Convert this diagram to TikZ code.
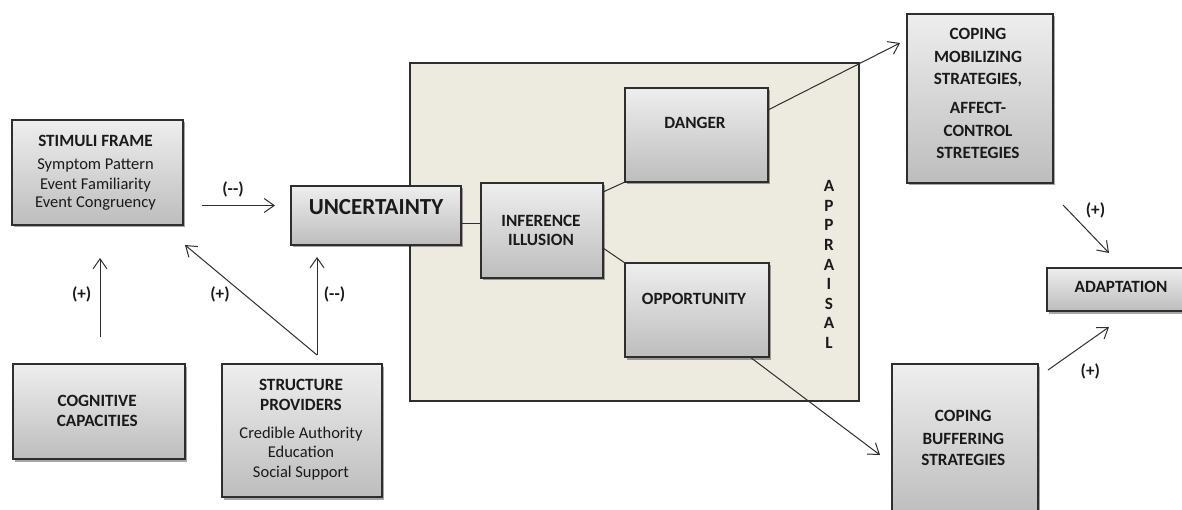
\documentclass[tikz,border=0pt]{standalone}
\usepackage{fontspec}
\setmainfont{Carlito}
\usetikzlibrary{arrows.meta,shadows}
\definecolor{edge}{HTML}{2E2E2E}
\definecolor{boxtop}{HTML}{EEEEEE}
\definecolor{boxbot}{HTML}{BDBDBD}
\definecolor{beige}{HTML}{EDEAE0}
\definecolor{ink}{HTML}{1A1A1A}
\begin{document}
\begin{tikzpicture}[x=1pt,y=-1pt,
  box/.style={draw=edge, line width=1.2pt, top color=boxtop, bottom color=boxbot,
    drop shadow={shadow xshift=2pt,shadow yshift=-2.5pt,opacity=0.35,fill=black},
    inner sep=0pt, outer sep=0pt},
  tl/.style={anchor=base, inner sep=0pt, text=ink, font=\fontsize{16.5}{19}\selectfont},
  tb/.style={anchor=base, inner sep=0pt, text=ink, font=\fontsize{17.2}{19}\selectfont\bfseries},
  conn/.style={draw=edge, line width=1pt},
  arr/.style={conn, -{Straight Barb[length=10pt,width=14pt,line width=1pt]}}
]
\clip (0,0) rectangle (1182,510);
\fill[white] (0,0) rectangle (1182,510);

% appraisal panel
\node[draw=edge, line width=1.2pt, fill=beige, minimum width=449pt, minimum height=338pt, inner sep=0pt] (app) at (634.5,232) {};

% boxes
\node[box, minimum width=171pt, minimum height=105pt] (stim) at (97.5,172.5) {};
\node[box, minimum width=170pt, minimum height=59pt] (unc) at (376,215.5) {};
\node[box, minimum width=122pt, minimum height=95pt] (inf) at (542,230.5) {};
\node[box, minimum width=143pt, minimum height=94pt] (danger) at (696.5,135) {};
\node[box, minimum width=144pt, minimum height=94pt] (opp) at (697,310) {};
\node[box, minimum width=146pt, minimum height=169pt] (mob) at (980,98.5) {};
\node[box, minimum width=148pt, minimum height=43pt] (adapt) at (1121,289.5) {};
\node[box, minimum width=146pt, minimum height=152pt] (buf) at (965,440) {};
\node[box, minimum width=172pt, minimum height=95pt] (cog) at (99,411.5) {};
\node[box, minimum width=160pt, minimum height=133pt] (struct) at (302,430.5) {};

% texts
\node[tb] (s1) at (95.5,147) {STIMULI FRAME};
\node[tl] (s2) at (95.5,169.5) {Symptom Pattern};
\node[tl] (s3) at (95.5,190) {Event Familiarity};
\node[tl] (s4) at (95.5,207.5) {Event Congruency};
\node[tb, font=\fontsize{23}{26}\selectfont\bfseries] (u1) at (376,215) {UNCERTAINTY};
\node[tb] (i1) at (541,226.7) {INFERENCE};
\node[tb] (i2) at (541,246) {ILLUSION};
\node[tb] (d1) at (695,129) {DANGER};
\node[tb] (o1) at (694,304.3) {OPPORTUNITY};
\foreach \ch [count=\i from 0] in {A,P,P,R,A,I,S,A,L}
  \node[tb] (ap\i) at (829,191.7+19.6*\i) {\ch};
\node[tb] (m1) at (978,39.3) {COPING};
\node[tb] (m2) at (978,62.7) {MOBILIZING};
\node[tb] (m3) at (978,85) {STRATEGIES,};
\node[tb] (m4) at (978,113.3) {AFFECT-};
\node[tb] (m5) at (978,136.7) {CONTROL};
\node[tb] (m6) at (978,158.7) {STRETEGIES};
\node[tb] (a1) at (1121,292.7) {ADAPTATION};
\node[tb] (b1) at (963.3,421.7) {COPING};
\node[tb] (b2) at (963.3,444) {BUFFERING};
\node[tb] (b3) at (963.3,465) {STRATEGIES};
\node[tb] (c1) at (97.2,406) {COGNITIVE};
\node[tb] (c2) at (97.2,426) {CAPACITIES};
\node[tb] (p1) at (301,390) {STRUCTURE};
\node[tb] (p2) at (301,410.7) {PROVIDERS};
\node[tl] (p3) at (301,438.3) {Credible Authority};
\node[tl] (p4) at (301,457.7) {Education};
\node[tl] (p5) at (301,477.3) {Social Support};

% labels
\node[tb] (l1) at (233,195) {(-{}-)};
\node[tb] (l2) at (81.7,300) {(+)};
\node[tb] (l3) at (220,300) {(+)};
\node[tb] (l4) at (334.5,300) {(-{}-)};
\node[tb] (l5) at (1095.5,216) {(+)};
\node[tb] (l6) at (1090.3,376) {(+)};

% free arrow ends
\coordinate (e1a) at (202,205.5);
\coordinate (e1b) at (275,205.5);
\coordinate (e2a) at (100,337);
\coordinate (e2b) at (100,258);
\coordinate (e3a) at (317,355);
\coordinate (e3b) at (185,245);
\coordinate (e4b) at (317,257);
\coordinate (e5b) at (900,43);
\coordinate (e6b) at (880,455);
\coordinate (e7a) at (1063,205);
\coordinate (e7b) at (1109,253);
\coordinate (e8a) at (1048,370);
\coordinate (e8b) at (1109,327);

% connectors
\draw[arr] (e1a) -- (e1b);
\draw[arr] (e2a) -- (e2b);
\draw[arr] (e3a) -- (e3b);
\draw[arr] (e3a) -- (e4b);
\draw[conn] (unc.east |- 0,224) -- (inf.west |- 0,224);
\draw[conn] (inf.east |- 0,192) -- (danger.south west);
\draw[conn] (inf.east |- 0,248) -- (opp.north west);
\draw[arr] (danger.east |- 0,110) -- (e5b);
\draw[arr] (opp.south -| 750,0) -- (e6b);
\draw[arr] (e7a) -- (e7b);
\draw[arr] (e8a) -- (e8b);
\end{tikzpicture}
\end{document}
